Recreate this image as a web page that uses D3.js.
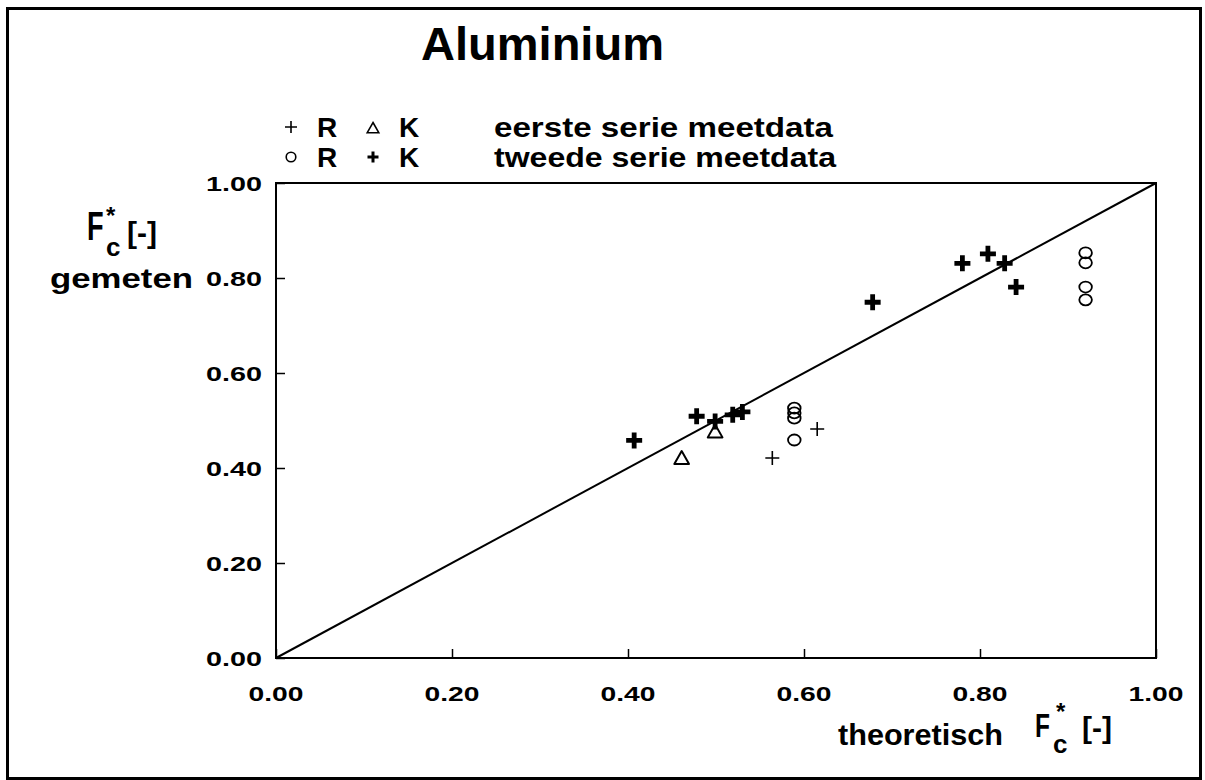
<!DOCTYPE html>
<html>
<head>
<meta charset="utf-8">
<script src="https://cdn.jsdelivr.net/npm/d3@7"></script>
<style>
  html, body { margin: 0; padding: 0; background: #fff; }
  svg { display: block; }
  text { font-family: "Liberation Sans", Arial, sans-serif; font-weight: bold; fill: #000; }
</style>
</head>
<body>
<svg id="chart" width="1205" height="780"></svg>
<script>
// Measured coercion factor F*c: theoretical vs measured
const tickValues = [0.0, 0.2, 0.4, 0.6, 0.8, 1.0];
const tickLabels = ["0.00", "0.20", "0.40", "0.60", "0.80", "1.00"];

// first measurement series
const serie1R = [[0.564, 0.421], [0.615, 0.482]];                 // thin plus
const serie1K = [[0.461, 0.421], [0.499, 0.477]];                 // open triangle
// second measurement series
const serie2R = [[0.589, 0.526], [0.589, 0.516], [0.589, 0.505], [0.589, 0.459],
                 [0.920, 0.853], [0.920, 0.832], [0.920, 0.781], [0.920, 0.754]];   // open circle
const serie2K = [[0.407, 0.458], [0.478, 0.509], [0.499, 0.498], [0.519, 0.512],
                 [0.530, 0.518], [0.678, 0.749], [0.780, 0.831], [0.809, 0.851],
                 [0.828, 0.831], [0.841, 0.781]];                 // bold plus

const svg = d3.select("#chart");

// outer frame
svg.append("rect").attr("x", 7.5).attr("y", 8.5).attr("width", 1193).attr("height", 770)
  .attr("fill", "none").attr("stroke", "#000").attr("stroke-width", 3);

const x = d3.scaleLinear().domain([0, 1]).range([276, 1156]);
const y = d3.scaleLinear().domain([0, 1]).range([658, 183]);

// plot box
svg.append("rect").attr("x", x(0)).attr("y", y(1))
  .attr("width", x(1) - x(0)).attr("height", y(0) - y(1))
  .attr("fill", "none").attr("stroke", "#000").attr("stroke-width", 2);

// axes with inward ticks
const xAxis = d3.axisBottom(x).tickValues(tickValues).tickSize(-9).tickFormat("");
const yAxis = d3.axisLeft(y).tickValues(tickValues).tickSize(-9).tickFormat("");
svg.append("g").attr("transform", `translate(0,${y(0)})`).call(xAxis)
  .call(g => g.select(".domain").remove())
  .selectAll("line").attr("stroke", "#000").attr("stroke-width", 1.5);
svg.append("g").attr("transform", `translate(${x(0)},0)`).call(yAxis)
  .call(g => g.select(".domain").remove())
  .selectAll("line").attr("stroke", "#000").attr("stroke-width", 1.5);

// tick labels
svg.append("g").selectAll("text").data(tickValues).join("text")
  .attr("x", d => x(d)).attr("y", 701)
  .attr("text-anchor", "middle").attr("font-size", 21)
  .attr("textLength", 55).attr("lengthAdjust", "spacingAndGlyphs")
  .text((d, i) => tickLabels[i]);
svg.append("g").selectAll("text").data(tickValues).join("text")
  .attr("x", 262).attr("y", d => y(d) + 8)
  .attr("text-anchor", "end").attr("font-size", 21)
  .attr("textLength", 56).attr("lengthAdjust", "spacingAndGlyphs")
  .text((d, i) => tickLabels[i]);

// diagonal: theoretical = measured
svg.append("line")
  .attr("x1", x(0)).attr("y1", y(0)).attr("x2", x(1)).attr("y2", y(1))
  .attr("stroke", "#000").attr("stroke-width", 2);

// marker path helpers
const plusPath = (cx, cy, h) => `M${cx - h},${cy}H${cx + h}M${cx},${cy - h}V${cy + h}`;
const triPath = (cx, cy, h) => `M${cx},${cy - h}L${cx + h * 1.05},${cy + h * 0.85}L${cx - h * 1.05},${cy + h * 0.85}Z`;

const marks = svg.append("g");
marks.selectAll(".s2r").data(serie2R).join("ellipse")
  .attr("cx", d => x(d[0])).attr("cy", d => y(d[1]))
  .attr("rx", 6.3).attr("ry", 5.5)
  .attr("fill", "none").attr("stroke", "#000").attr("stroke-width", 1.8);
marks.selectAll(".s1r").data(serie1R).join("path")
  .attr("d", d => plusPath(x(d[0]), y(d[1]), 7))
  .attr("fill", "none").attr("stroke", "#000").attr("stroke-width", 1.6);
marks.selectAll(".s1k").data(serie1K).join("path")
  .attr("d", d => triPath(x(d[0]), y(d[1]), 7))
  .attr("fill", "none").attr("stroke", "#000").attr("stroke-width", 2).attr("stroke-linejoin", "round");
marks.selectAll(".s2k").data(serie2K).join("path")
  .attr("d", d => plusPath(x(d[0]), y(d[1]), 8))
  .attr("fill", "none").attr("stroke", "#000").attr("stroke-width", 4.8);

// title
svg.append("text").attr("x", 421).attr("y", 60).attr("font-size", 46)
  .attr("textLength", 243).attr("lengthAdjust", "spacingAndGlyphs")
  .text("Aluminium");

// legend
const r1 = 137, r2 = 167;
const leg = svg.append("g");
leg.append("path").attr("d", plusPath(291, r1 - 10, 6)).attr("stroke", "#000").attr("stroke-width", 1.6);
leg.append("text").attr("x", 317).attr("y", r1).attr("font-size", 28).text("R");
leg.append("path").attr("d", triPath(373, r1 - 9, 5.5)).attr("fill", "none").attr("stroke", "#000").attr("stroke-width", 1.6);
leg.append("text").attr("x", 399).attr("y", r1).attr("font-size", 28).text("K");
leg.append("text").attr("x", 494).attr("y", r1).attr("font-size", 28)
  .attr("textLength", 339).attr("lengthAdjust", "spacingAndGlyphs").text("eerste serie meetdata");

leg.append("circle").attr("cx", 291).attr("cy", r2 - 10).attr("r", 4.8)
  .attr("fill", "none").attr("stroke", "#000").attr("stroke-width", 1.6);
leg.append("text").attr("x", 317).attr("y", r2).attr("font-size", 28).text("R");
leg.append("path").attr("d", plusPath(373, r2 - 10, 5.5)).attr("stroke", "#000").attr("stroke-width", 3);
leg.append("text").attr("x", 399).attr("y", r2).attr("font-size", 28).text("K");
leg.append("text").attr("x", 494).attr("y", r2).attr("font-size", 28)
  .attr("textLength", 342).attr("lengthAdjust", "spacingAndGlyphs").text("tweede serie meetdata");

// axis symbol F*c [-]: a narrow F, then superscript, subscript and unit as one run
function symbolLabel(g, o) {
  g.append("text").attr("transform", `translate(${o.fx},${o.fy}) scale(${o.fk},1)`)
    .attr("font-size", o.fs).text("F");
  const t = g.append("text");
  t.append("tspan").attr("x", o.sx).attr("y", o.sy).attr("font-size", 24).text("*");
  t.append("tspan").attr("x", o.cx).attr("y", o.cy).attr("font-size", o.cs).text("c");
  t.append("tspan").attr("x", o.bx).attr("y", o.by).attr("font-size", 30).text("[-]");
}

// y-axis title
const yl = svg.append("g");
symbolLabel(yl, {fx: 87, fy: 240, fs: 40, fk: 0.68, sx: 106, sy: 224, cx: 106, cy: 256, cs: 26, bx: 127, by: 243});
yl.append("text").attr("x", 50).attr("y", 288).attr("font-size", 27)
  .attr("textLength", 143).attr("lengthAdjust", "spacingAndGlyphs").text("gemeten");

// x-axis title
const xl = svg.append("g");
xl.append("text").attr("x", 838).attr("y", 745).attr("font-size", 30)
  .attr("textLength", 165).attr("lengthAdjust", "spacingAndGlyphs").text("theoretisch");
symbolLabel(xl, {fx: 1035, fy: 737, fs: 34, fk: 0.72, sx: 1056, sy: 720, cx: 1053, cy: 753, cs: 26, bx: 1082, by: 738});
</script>
</body>
</html>
